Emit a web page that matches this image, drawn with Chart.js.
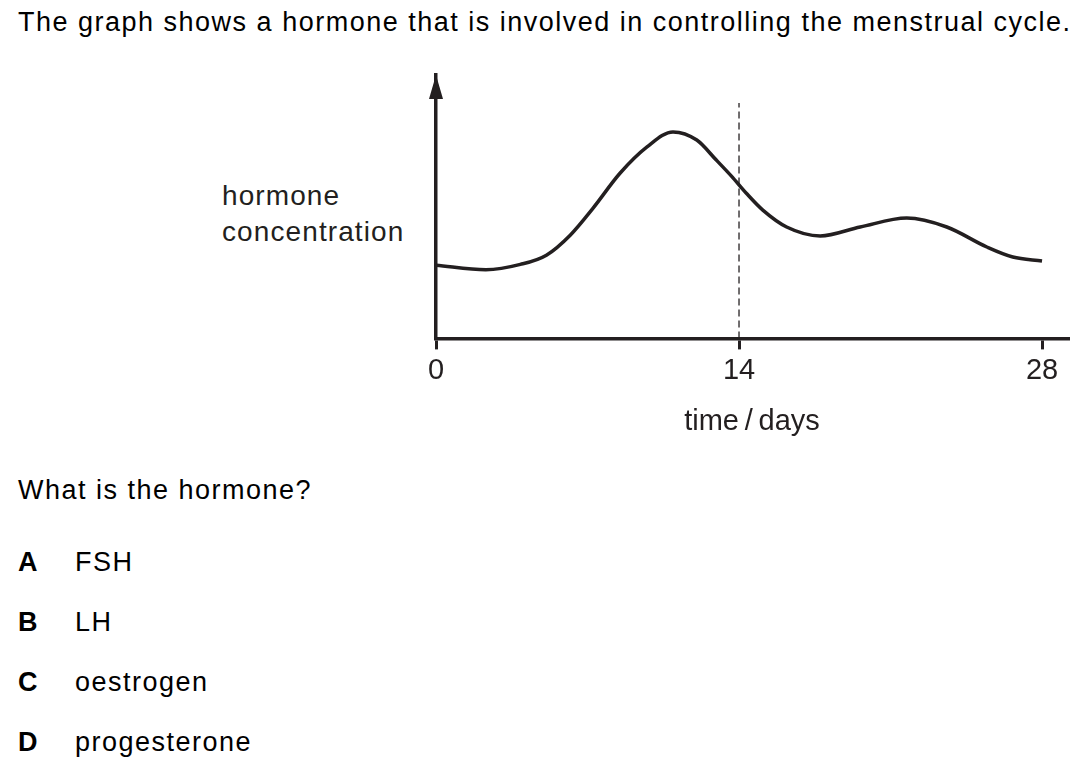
<!DOCTYPE html>
<html>
<head>
<meta charset="utf-8">
<script src="https://cdn.jsdelivr.net/npm/chart.js@4/dist/chart.umd.min.js"></script>
<style>
  body { margin: 0; background: #fff; width: 1090px; height: 765px; overflow: hidden;
         font-family: "Liberation Sans", Arial, sans-serif; color: #000; }
  .t { position: absolute; white-space: nowrap; font-size: 27px; line-height: 27px; letter-spacing: 1.5px; }
  .b { font-weight: bold; letter-spacing: 0; }
  .ylab { position: absolute; left: 222px; font-size: 28px; line-height: 28px; letter-spacing: 1.1px; color: #231f20; }
  #wrap { position: absolute; left: 0; top: 60px; width: 1090px; height: 400px; }
</style>
</head>
<body>
<div class="t" style="left:18px; top:9px;">The graph shows a hormone that is involved in controlling the menstrual cycle.</div>

<div class="ylab" style="top:182px;">hormone</div>
<div class="ylab" style="top:218px;">concentration</div>

<div id="wrap"><canvas id="hormonechart"></canvas></div>

<div class="t" style="left:18px; top:477px;">What is the hormone?</div>
<div class="t b" style="left:18px; top:549px;">A</div><div class="t" style="left:75px; top:549px;">FSH</div>
<div class="t b" style="left:18px; top:609px;">B</div><div class="t" style="left:75px; top:609px;">LH</div>
<div class="t b" style="left:18px; top:669px;">C</div><div class="t" style="left:75px; top:669px;">oestrogen</div>
<div class="t b" style="left:18px; top:729px;">D</div><div class="t" style="left:75px; top:729px;">progesterone</div>

<script>
// time in days, hormone level (arbitrary units, axis has no scale)
var days  = [0, 2.3, 3.9, 5.1, 6.2, 7.25, 8.5, 9.75, 10.95, 12.05, 12.95, 13.65, 14.35, 15.1, 16.2, 17.75, 19.6, 21.75, 23.6, 25.45, 26.65, 28];
var level = [27.8, 26.1, 28.1, 31.6, 39.2, 49.4, 62.7, 72.7, 78.4, 75.3, 67.7, 61.6, 55.0, 48.7, 42.3, 38.9, 42.3, 45.7, 42.3, 34.7, 30.9, 29.4];
var tickDays = [0, 14, 28];
var markerDay = 14;
var markerTop = 89.4;

var ink = "#231f20";

var arrowPlugin = {
    id: "yArrow",
    afterDraw: function (chart) {
        var ctx = chart.ctx;
        var x = chart.scales.x.getPixelForValue(0);
        var top = chart.chartArea.top;
        ctx.save();
        ctx.fillStyle = ink;
        ctx.beginPath();
        ctx.moveTo(x, top);
        ctx.lineTo(x - 7, top + 24);
        ctx.lineTo(x + 7, top + 24);
        ctx.closePath();
        ctx.fill();
        ctx.restore();
    }
};

new Chart(document.getElementById("hormonechart"), {
    "type": "line",
    "data": {
        "datasets": [{
            "data": days.map(function (d, i) { return { x: d, y: level[i] }; }),
            "fill": false,
            "borderColor": ink,
            "borderWidth": 3.5,
            "pointRadius": 0,
            "cubicInterpolationMode": "monotone"
        }, {
            "data": [{ x: markerDay, y: 0 }, { x: markerDay, y: markerTop }],
            "fill": false,
            "borderColor": ink,
            "borderWidth": 1.3,
            "borderDash": [7, 4],
            "pointRadius": 0
        }]
    },
    "options": {
        responsive: true,
        maintainAspectRatio: false,
        animation: false,
        events: [],
        layout: { padding: { left: 434, right: 22, top: 15, bottom: 21 } },
        plugins: { legend: { display: false }, tooltip: { enabled: false } },
        scales: {
            x: {
                type: "linear",
                min: 0,
                max: 29.2,
                afterBuildTicks: function (axis) {
                    axis.ticks = tickDays.map(function (v) { return { value: v }; });
                },
                grid: { display: true, drawOnChartArea: false, drawTicks: true, tickLength: 11, lineWidth: 3, color: ink },
                border: { display: true, width: 3.5, color: ink },
                ticks: { color: ink, font: { family: "Liberation Sans", size: 29 }, padding: 4, maxRotation: 0 },
                title: { display: true, text: "time\u2009/\u2009days", color: ink, font: { family: "Liberation Sans", size: 29 }, padding: { top: 12, bottom: 0 } }
            },
            y: {
                min: 0,
                max: 100,
                afterFit: function (s) { s.width = 2; },
                grid: { display: false },
                border: { display: true, width: 3.5, color: ink },
                ticks: { display: false }
            }
        }
    },
    plugins: [arrowPlugin]
});
</script>
</body>
</html>
